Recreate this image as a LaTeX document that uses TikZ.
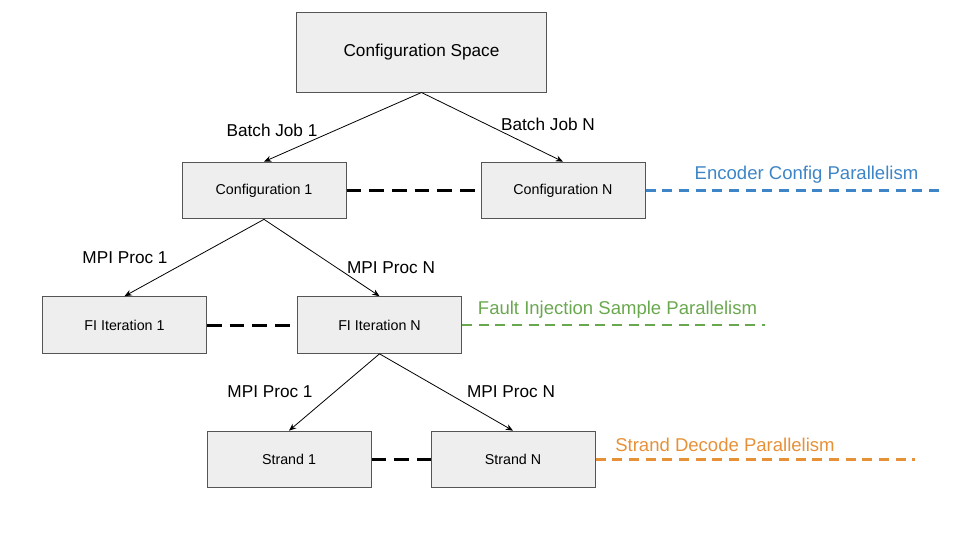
\documentclass[tikz,border=0pt]{standalone}
\usepackage{fontspec}
\setmainfont{Liberation Sans}
\usetikzlibrary{arrows.meta}
\definecolor{boxfill}{HTML}{EEEEEE}
\definecolor{boxline}{HTML}{555555}
\definecolor{encblue}{HTML}{3D85C6}
\definecolor{figreen}{HTML}{6AA84F}
\definecolor{strorange}{HTML}{E69138}
\begin{document}
\begin{tikzpicture}[x=0.75pt, y=-0.75pt,
box_style/.style={rectangle,draw=boxline,fill=boxfill,line width=0.75pt,minimum width=123pt,minimum height=42.5pt,font=\fontsize{10.7}{13}\selectfont},
top_style/.style={box_style,minimum width=188pt,minimum height=60pt,font=\fontsize{12.9}{15}\selectfont},
label_style/.style={font=\fontsize{12.9}{15}\selectfont},
edge_style/.style={draw=black,line width=0.6pt,-{Stealth[length=5.5pt,width=4.5pt]}},
gap_style/.style={draw=black,line width=2.25pt,dash pattern=on 11pt off 6pt},
par_style/.style={line width=2.1pt,dash pattern=on 7.5pt off 5pt,font=\fontsize{13.9}{16}\selectfont}]
\useasboundingbox (0,0) rectangle (960,540);
% tree boxes
\node[top_style] (cs) at (421.5,52) {Configuration Space};
\node[box_style] (c1) at (264,190.5) {Configuration 1};
\node[box_style] (cn) at (563,190.5) {Configuration N};
\node[box_style] (fi1) at (124.5,325) {FI Iteration 1};
\node[box_style] (fin) at (379.5,325) {FI Iteration N};
\node[box_style] (s1) at (289,459.5) {Strand 1};
\node[box_style] (sn) at (513,459.5) {Strand N};
% edge labels
\node[label_style] (bj1) at (272,130) {Batch Job 1};
\node[label_style] (bjn) at (548,124) {Batch Job N};
\node[label_style] (mp1) at (125,258) {MPI Proc 1};
\node[label_style] (mpn) at (391,268) {MPI Proc N};
\node[label_style] (mq1) at (270,392) {MPI Proc 1};
\node[label_style] (mqn) at (511,392) {MPI Proc N};
% arrows
\draw[edge_style] (cs.south) -- (c1.north);
\draw[edge_style] (cs.south) -- (cn.north);
\draw[edge_style] (c1.south) -- (fi1.north);
\draw[edge_style] (c1.south) -- (fin.north);
\draw[edge_style] (fin.south) -- (s1.north);
\draw[edge_style] (fin.south) -- (sn.north);
% black dashes between siblings
\draw[gap_style] (c1.east) -- (cn.west);
\draw[gap_style] (fi1.east) -- (fin.west);
\draw[gap_style] (s1.east) -- (sn.west);
% parallelism levels
\coordinate (enc_end) at (945,190.5);
\coordinate (fi_end) at (765,325);
\coordinate (str_end) at (915,459.5);
\draw[par_style,draw=encblue] (cn.east) -- (enc_end);
\draw[par_style,draw=figreen] (fin.east) -- (fi_end);
\draw[par_style,draw=strorange] (sn.east) -- (str_end);
\node[par_style,text=encblue] (enc) at (806.5,175) {Encoder Config Parallelism};
\node[par_style,text=figreen] (fip) at (617.5,310) {Fault Injection Sample Parallelism};
\node[par_style,text=strorange] (strp) at (725,445) {Strand Decode Parallelism};
\end{tikzpicture}
\end{document}
